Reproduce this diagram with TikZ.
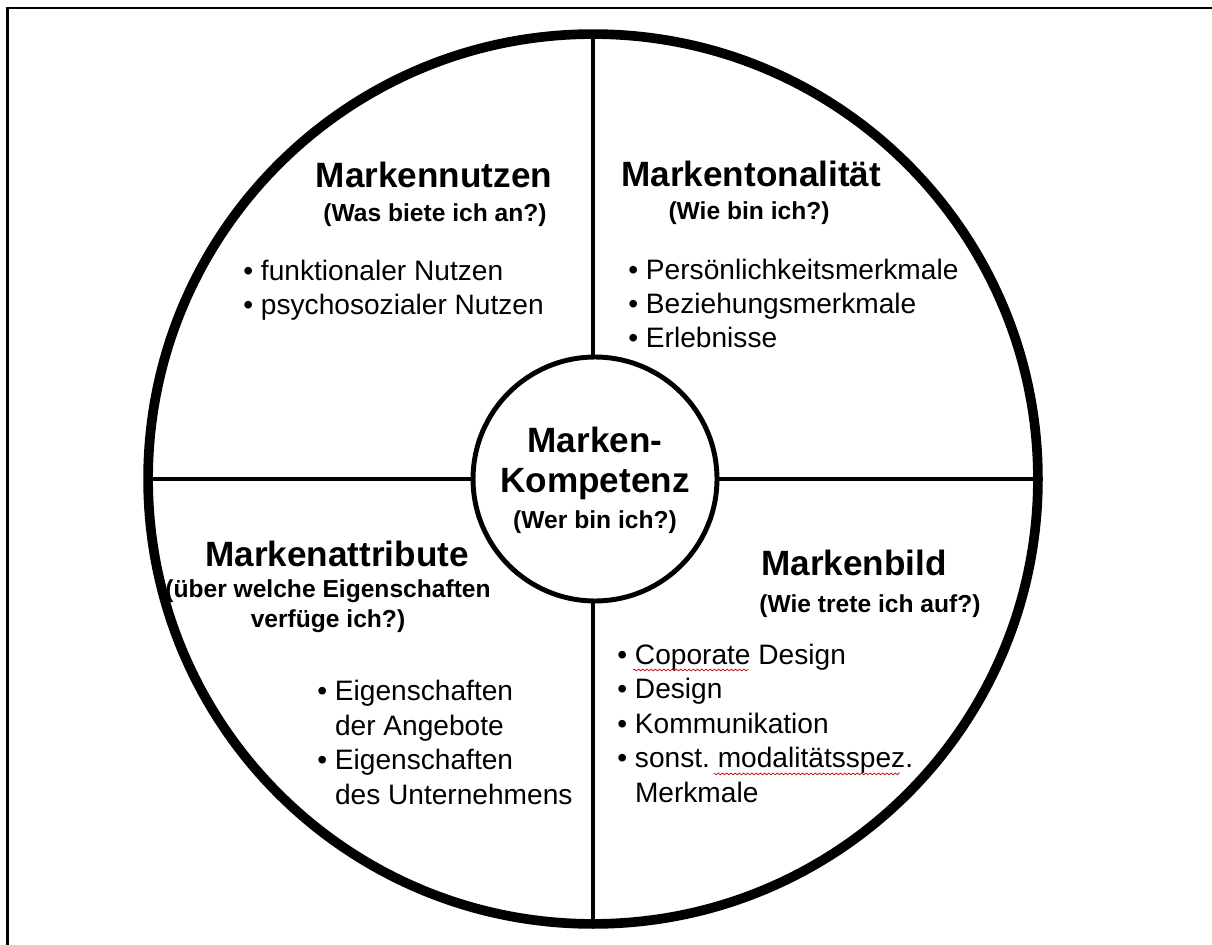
\documentclass[tikz,border=0pt]{standalone}
\usepackage{fontspec}
\setmainfont{Liberation Sans}
\usetikzlibrary{decorations.pathmorphing}
\frenchspacing

\tikzset{
  titel/.style={font=\bfseries\fontsize{20}{23}\selectfont, inner sep=0pt},
  frage/.style={font=\bfseries\fontsize{14}{17}\selectfont, inner sep=0pt, align=center},
  liste/.style={font=\fontsize{16}{19.6}\selectfont, inner sep=0pt, align=left},
  welle/.style={draw=red!75!black, line width=0.4pt, decorate,
    decoration={snake, amplitude=0.5pt, segment length=2.4pt}}
}
\newcommand{\einzug}{\phantom{• }}

\begin{document}
\begin{tikzpicture}[x=0.02cm, y=-0.02cm]
    \useasboundingbox (0,0) rectangle (1212,945);
    \draw[line width=1.2pt] (1212,8) -- (7.5,8) -- (7.5,945);
    % Rad und Kern
    \node[circle, draw, line width=5.5pt, minimum size=17.8cm, inner sep=0pt, outer sep=0pt] (rad) at (593,479) {};
    \node[circle, draw, line width=2.8pt, minimum size=4.88cm, inner sep=0pt, outer sep=0pt] (kern) at (595,479) {};
    \draw[line width=2.4pt] (rad.north) -- (rad.north |- kern.north)
      (rad.south) -- (rad.south |- kern.south)
      (rad.west) -- (kern.west) (rad.east) -- (kern.east);
    \node[titel, anchor=base] (kern1) at (595,452) {Marken-};
    \node[titel, anchor=base] (kern2) at (595,492) {Kompetenz};
    \node[frage, anchor=base] (kern3) at (595,528) {(Wer bin ich?)};
    % oben links
    \node[titel, anchor=base] (nutzen) at (434,188) {Markennutzen};
    \node[frage, anchor=base] (nutzenF) at (435,222) {(Was biete ich an?)};
    \node[liste, anchor=base west] (nutzenL) at (243,315)
      {• funktionaler Nutzen\\• psychosozialer Nutzen};
    % oben rechts
    \node[titel, anchor=base west] (tonal) at (621,187) {Markentonalität};
    \node[frage, anchor=base] (tonalF) at (749,220) {(Wie bin ich?)};
    \node[liste, anchor=base west] (tonalL) at (628,348)
      {• Persönlichkeitsmerkmale\\• Beziehungsmerkmale\\• Erlebnisse};
    % unten links
    \node[titel, anchor=base] (attr) at (337,566) {Markenattribute};
    \node[frage, anchor=base] (attrF) at (328,627) {(über welche Eigenschaften\\verfüge ich?)};
    \node[liste, anchor=base west] (attrL) at (317,804)
      {• Eigenschaften\\\einzug der Angebote\\• Eigenschaften\\\einzug des Unternehmens};
    % unten rechts
    \node[titel, anchor=base] (bild) at (854,575) {Markenbild};
    \node[frage, anchor=base] (bildF) at (870,612) {(Wie trete ich auf?)};
    \node[liste, anchor=base west] (bildL) at (617,802)
      {• Coporate Design\\• Design\\• Kommunikation\\• sonst. modalitätsspez.\\\einzug Merkmale};
    \draw[welle] (633,670) -- (748,670) (714,773) -- (900,773);
  \end{tikzpicture}
\end{document}
